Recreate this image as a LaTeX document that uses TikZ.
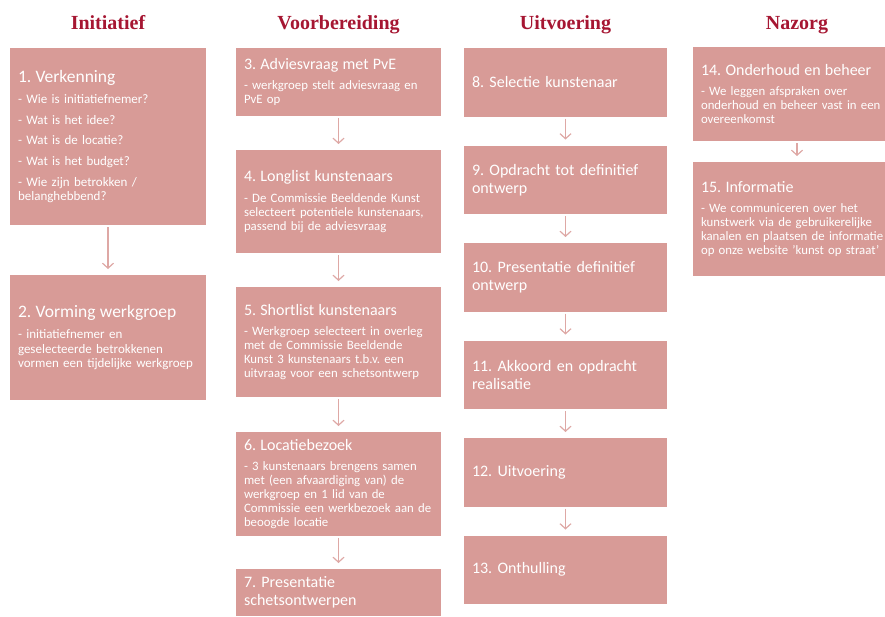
\documentclass[tikz,border=0pt]{standalone}
\usepackage{fontspec}
\setmainfont{Carlito}
\newfontfamily\headfont{Liberation Serif}
\usetikzlibrary{positioning}
\usetikzlibrary{arrows.meta}
\definecolor{stepfill}{RGB}{216,155,151}
\definecolor{steparrow}{RGB}{222,168,165}
\definecolor{headred}{RGB}{166,22,50}
\setlength{\parindent}{0pt}
\setlength{\parskip}{0pt}
\setlength{\lineskiplimit}{-100pt}
\frenchspacing
\newcommand{\steptitle}[1]{{\fontsize{16}{18}\selectfont #1\par}\vspace{6.5pt}}
\newcommand{\firsttitle}[1]{{\fontsize{17.5}{20}\selectfont #1\par}\vspace{7pt}}

\begin{document}
\begin{tikzpicture}[
x=1pt,y=1pt,
stepbox/.style={
fill=stepfill,
text=white,
inner xsep=8pt,
inner ysep=0pt,
outer sep=0pt,
align=left,
anchor=north,
font=\fontsize{12.8}{14}\selectfont},
onlytitle/.style={font=\fontsize{16}{18}\selectfont},
colA/.style={stepbox, text width=180pt, font=\fontsize{13}{14.6}\selectfont},
colB/.style={stepbox, text width=189pt},
colC/.style={stepbox, text width=187pt},
colD/.style={stepbox, text width=192pt},
head/.style={font=\headfont\bfseries\fontsize{20}{22}\selectfont, text=headred, inner sep=0pt, anchor=base},
flow/.style={draw=steparrow, line width=1.2pt, -{Straight Barb[length=5pt,width=11pt]}, shorten <=2pt, shorten >=6pt}
]
\useasboundingbox (0,0) rectangle (885,-616);
% Initiatief
\node[colA, minimum height=177pt] (s1) at (108,-48) {\firsttitle{1. Verkenning}
- Wie is initiatiefnemer?\\[6pt]
- Wat is het idee?\\[6pt]
- Wat is de locatie?\\[6pt]
- Wat is het budget?\\[6pt]
- Wie zijn betrokken /\\
belanghebbend?};
\node[colA, minimum height=125pt, below=50pt of s1] (s2) {\firsttitle{2. Vorming werkgroep}
- initiatiefnemer en\\
geselecteerde betrokkenen\\
vormen een tijdelijke werkgroep};
% Voorbereiding
\node[colB, minimum height=68pt] (s3) at (338.5,-48) {\steptitle{3. Adviesvraag met PvE}
- werkgroep stelt adviesvraag en\\
PvE op};
\node[colB, minimum height=103pt, below=34pt of s3] (s4) {\steptitle{4. Longlist kunstenaars}
- De Commissie Beeldende Kunst\\
selecteert potentiele kunstenaars,\\
passend bij de adviesvraag};
\node[colB, minimum height=110pt, below=34pt of s4] (s5) {\steptitle{5. Shortlist kunstenaars}
- Werkgroep selecteert in overleg\\
met de Commissie Beeldende\\
Kunst 3 kunstenaars t.b.v. een\\
uitvraag voor een schetsontwerp};
\node[colB, minimum height=104pt, below=35pt of s5] (s6) {\steptitle{6. Locatiebezoek}
- 3 kunstenaars brengens samen\\
met (een afvaardiging van) de\\
werkgroep en 1 lid van de\\
\mbox{Commissie een werkbezoek aan de}\\
beoogde locatie};
\node[colB, onlytitle, minimum height=47pt, below=33pt of s6] (s7) {7. Presentatie\\
schetsontwerpen};
% Uitvoering
\node[colC, onlytitle, minimum height=68.5pt] (s8) at (565.5,-48) {8. Selectie kunstenaar};
\node[colC, onlytitle, minimum height=68.5pt, below=29pt of s8] (s9) {9. Opdracht tot definitief\\
ontwerp};
\node[colC, onlytitle, minimum height=68.5pt, below=29pt of s9] (s10) {10. Presentatie definitief\\
ontwerp};
\node[colC, onlytitle, minimum height=68.5pt, below=29pt of s10] (s11) {11. Akkoord en opdracht\\
realisatie};
\node[colC, onlytitle, minimum height=68.5pt, below=29pt of s11] (s12) {12. Uitvoering};
\node[colC, onlytitle, minimum height=68.5pt, below=29pt of s12] (s13) {13. Onthulling};
% Nazorg
\node[colD, minimum height=94pt] (s14) at (797,-47) {\steptitle{14. Onderhoud en beheer}
- We leggen afspraken over\\
onderhoud en beheer vast in een\\
overeenkomst};
\node[colD, minimum height=114pt, below=21pt of s14] (s15) {\steptitle{15. Informatie}
- We communiceren over het\\
kunstwerk via de gebruikerelijke\\
\mbox{kanalen en plaatsen de informatie}\\
op onze website 'kunst op straat'};
% headers
\node[head] (h1) at ([yshift=18.5pt]s1.north) {Initiatief};
\node[head] (h2) at ([yshift=18.5pt]s3.north) {Voorbereiding};
\node[head] (h3) at ([yshift=18.5pt]s8.north) {Uitvoering};
\node[head] (h4) at ([yshift=17.5pt]s14.north) {Nazorg};
\foreach \i/\j in {s1/s2, s3/s4, s4/s5, s5/s6, s6/s7, s8/s9, s9/s10, s10/s11, s11/s12, s12/s13, s14/s15}
\draw[flow] (\i) -- (\j);
\end{tikzpicture}
\end{document}
